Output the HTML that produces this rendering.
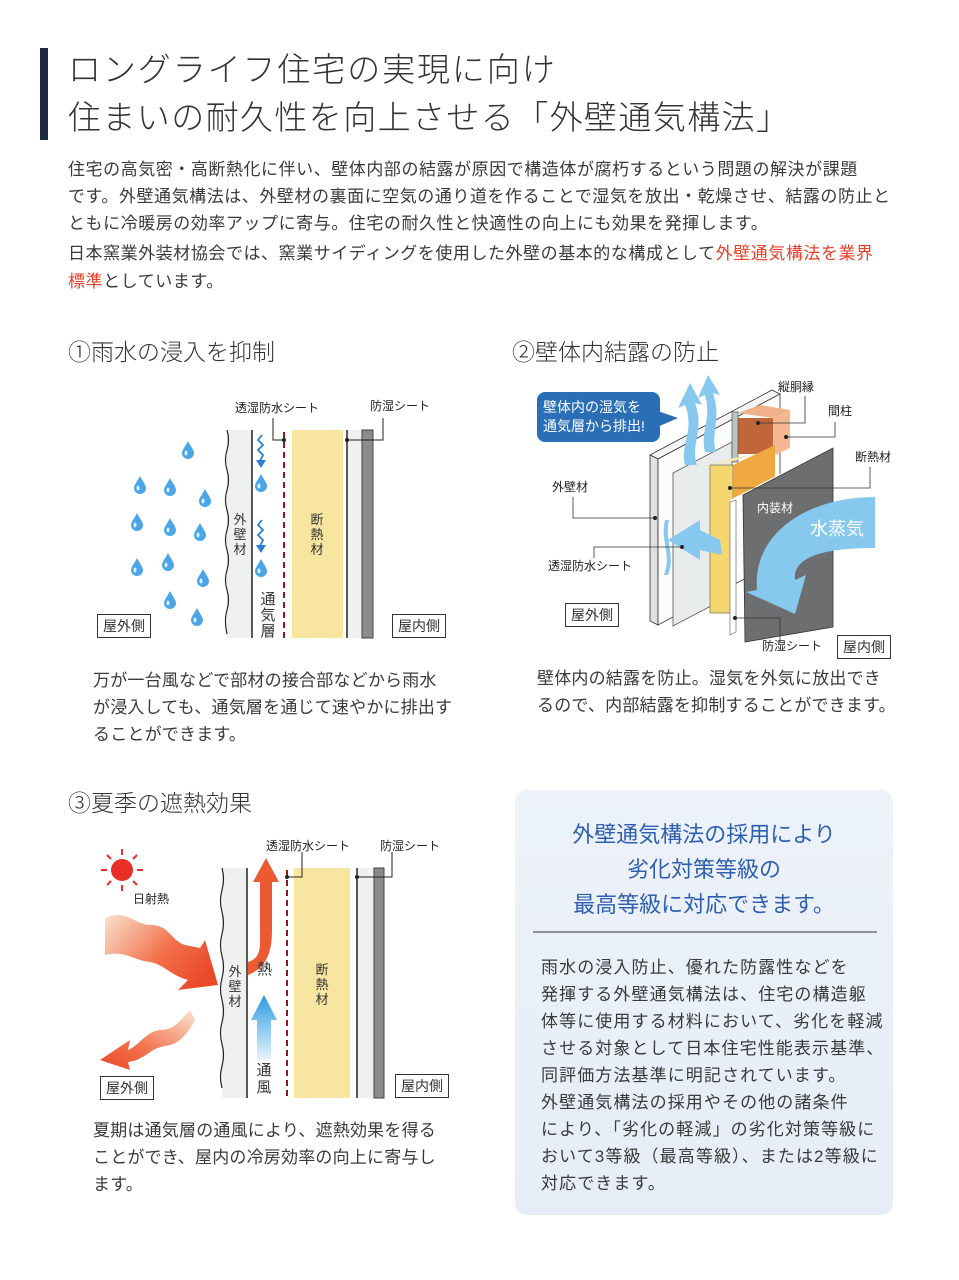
<!DOCTYPE html>
<html><head><meta charset="utf-8"><style>
*{margin:0;padding:0}
body{width:959px;height:1280px;background:#fff;position:relative;overflow:hidden;font-family:"Liberation Sans","Noto Sans CJK JP",sans-serif;color:#333}
.t{position:absolute;white-space:nowrap;line-height:1}
.p{font-size:17px;letter-spacing:0.55px;color:#3a3a3a}
.h{font-size:23px;color:#333;font-weight:300}
.lb{font-size:12px;color:#222}
.box{position:absolute;border:1px solid #333;background:#fff;font-size:14px;line-height:22px;padding:0 5px;white-space:nowrap}
.v{position:absolute;font-size:13px;line-height:15px;width:14px;text-align:center;color:#333}
</style></head><body>
<div style="position:absolute;left:40px;top:48px;width:8px;height:92px;background:#1e2a44"></div>
<div class="t" style="left:68px;top:53px;font-size:33px;letter-spacing:1.9px;font-weight:300">ロングライフ住宅の実現に向け</div>
<div class="t" style="left:68px;top:101px;font-size:33px;letter-spacing:1.4px;font-weight:300">住まいの耐久性を向上させる「外壁通気構法」</div>

<div class="t p" style="left:68px;top:161px">住宅の高気密・高断熱化に伴い、壁体内部の結露が原因で構造体が腐朽するという問題の解決が課題</div>
<div class="t p" style="left:68px;top:188px">です。外壁通気構法は、外壁材の裏面に空気の通り道を作ることで湿気を放出・乾燥させ、結露の防止と</div>
<div class="t p" style="left:68px;top:215px">ともに冷暖房の効率アップに寄与。住宅の耐久性と快適性の向上にも効果を発揮します。</div>
<div class="t p" style="left:68px;top:245px">日本窯業外装材協会では、窯業サイディングを使用した外壁の基本的な構成として<span style="color:#e8402a">外壁通気構法を業界</span></div>
<div class="t p" style="left:68px;top:273px"><span style="color:#e8402a">標準</span>としています。</div>

<div class="t h" style="left:68px;top:341px">①雨水の浸入を抑制</div>
<div class="t h" style="left:512px;top:341px">②壁体内結露の防止</div>
<div class="t h" style="left:68px;top:792px">③夏季の遮熱効果</div>

<svg width="959" height="1280" style="position:absolute;left:0;top:0">
<defs>
<g id="drop"><path d="M0,-9 C3,-3 6,0 6,3 A6,6 0 1 1 -6,3 C-6,0 -3,-3 0,-9Z" fill="#4aa6e8"/><ellipse cx="-2" cy="3" rx="1.5" ry="2.5" fill="#dff0fb"/></g>
<linearGradient id="heat" x1="0" y1="0" x2="1" y2="0.6"><stop offset="0" stop-color="#fbe3d0"/><stop offset="0.6" stop-color="#f2704a"/><stop offset="1" stop-color="#ea4a2a"/></linearGradient>
<linearGradient id="heat2" x1="1" y1="0" x2="0" y2="1"><stop offset="0" stop-color="#fbe3d0"/><stop offset="0.6" stop-color="#f2704a"/><stop offset="1" stop-color="#ea4a2a"/></linearGradient>
<linearGradient id="wind" x1="0" y1="1" x2="0" y2="0"><stop offset="0" stop-color="#e8f5fd"/><stop offset="1" stop-color="#2b9ae0"/></linearGradient>
<linearGradient id="bb" x1="0" y1="0" x2="0" y2="1"><stop offset="0" stop-color="#edf2f9"/><stop offset="1" stop-color="#e6edf7"/></linearGradient>
</defs>
<!-- Diagram 1 -->
<rect x="227" y="430" width="25" height="208" fill="#eef1ee"/>
<path d="M227,430 q3,10 0,20 q-3,10 0,20 q3,10 0,20 q-3,10 0,20 q3,10 0,20 q-3,10 0,20 q3,10 0,20 q-3,10 0,20 q3,10 0,20 q-3,10 0,24" fill="none" stroke="#222" stroke-width="1.2"/>
<line x1="252" y1="430" x2="252" y2="638" stroke="#222" stroke-width="1.5"/>
<line x1="284" y1="432" x2="284" y2="638" stroke="#8a1a1a" stroke-width="2" stroke-dasharray="6,4"/>
<rect x="292" y="430" width="51" height="208" fill="#f8e6a0"/>
<rect x="347" y="430" width="15" height="208" fill="#eef1ee"/>
<line x1="347" y1="430" x2="347" y2="638" stroke="#222" stroke-width="1.5"/>
<rect x="362" y="430" width="11" height="208" fill="#8a8c8c" stroke="#444" stroke-width="1"/>
<polyline points="273,418 273,440 284,440" fill="none" stroke="#222"/><circle cx="284" cy="440" r="2" fill="#222"/>
<polyline points="383,418 383,440 347,440" fill="none" stroke="#222"/><circle cx="347" cy="440" r="2" fill="#222"/>
<g fill="none" stroke="#2a7fd0" stroke-width="1.8"><path d="M262,435 l-4,5 l5,5 l-5,5 l5,5 l-3,6"/><path d="M262,520 l-4,5 l5,5 l-5,5 l5,5 l-3,6"/></g>
<path d="M256,460 l5,8 l5,-8z M256,545 l5,8 l5,-8z" fill="#2a7fd0"/>
<use href="#drop" x="261" y="483"/><use href="#drop" x="261" y="568"/>
<use href="#drop" x="188" y="450"/><use href="#drop" x="140" y="485"/><use href="#drop" x="170" y="487"/><use href="#drop" x="205" y="498"/>
<use href="#drop" x="137" y="522"/><use href="#drop" x="170" y="527"/><use href="#drop" x="200" y="532"/><use href="#drop" x="137" y="567"/>
<use href="#drop" x="168" y="562"/><use href="#drop" x="203" y="578"/><use href="#drop" x="170" y="600"/><use href="#drop" x="197" y="617"/>

<!-- Diagram 3 -->
<rect x="222" y="868" width="25" height="230" fill="#eef1ee"/>
<path d="M222,868 q3,11 0,22 q-3,11 0,22 q3,11 0,22 q-3,11 0,22 q3,11 0,22 q-3,11 0,22 q3,11 0,22 q-3,11 0,22 q3,11 0,22 q-3,11 0,22" fill="none" stroke="#222" stroke-width="1.2"/>
<line x1="247" y1="868" x2="247" y2="1098" stroke="#222" stroke-width="1.5"/>
<line x1="287" y1="870" x2="287" y2="1098" stroke="#8a1a1a" stroke-width="2" stroke-dasharray="6,4"/>
<rect x="294" y="868" width="56" height="230" fill="#f8e6a0"/>
<rect x="357" y="868" width="17" height="230" fill="#eef1ee"/>
<line x1="357" y1="868" x2="357" y2="1098" stroke="#222" stroke-width="1.5"/>
<rect x="374" y="868" width="10" height="230" fill="#8a8c8c" stroke="#444"/>
<polyline points="302,852 302,877 287,877" fill="none" stroke="#222"/><circle cx="287" cy="877" r="2" fill="#222"/>
<polyline points="392,852 392,877 357,877" fill="none" stroke="#222"/><circle cx="357" cy="877" r="2" fill="#222"/>
<path d="M248,962 C262,958 260,945 260,930 L260,882 L253,882 L266,858 L279,882 L272,882 L272,930 C272,955 265,968 248,975Z" fill="#ec5a33"/>
<path d="M257,1060 L257,1020 L251,1020 L264,995 L277,1020 L271,1020 L271,1060Z" fill="url(#wind)"/>
<circle cx="122" cy="870" r="11" fill="#e83028"/>
<g stroke="#e83028" stroke-width="2"><line x1="122" y1="849" x2="122" y2="855"/><line x1="122" y1="885" x2="122" y2="891"/><line x1="101" y1="870" x2="107" y2="870"/><line x1="137" y1="870" x2="143" y2="870"/><line x1="107" y1="855" x2="111" y2="859"/><line x1="133" y1="881" x2="137" y2="885"/><line x1="137" y1="855" x2="133" y2="859"/><line x1="107" y1="885" x2="111" y2="881"/></g>
<path d="M105,918 C125,908 135,925 150,925 C170,925 170,940 185,945 L200,948 L205,940 L218,985 L178,990 L188,980 C170,975 165,965 150,962 C132,960 125,950 105,955Z" fill="url(#heat)"/>
<path d="M190,1010 C180,1020 175,1030 160,1030 C145,1032 140,1045 128,1050 L130,1040 L100,1060 L130,1070 L128,1062 C145,1060 150,1048 165,1046 C180,1045 190,1030 195,1020Z" fill="url(#heat2)"/>

<!-- Diagram 2 -->
<path d="M650,455 L772,390 L780,394 L658,459Z" fill="#f4f4f4" stroke="#333" stroke-width="0.8"/>
<path d="M650,455 L658,459 L658,625 L650,621Z" fill="#e0e0e0" stroke="#333" stroke-width="0.8"/>
<path d="M658,459 L780,394 L780,560 L658,625Z" fill="#fbfbfb" stroke="#333" stroke-width="0.8"/>
<path d="M673,473 L732,442 L732,595 L673,626Z" fill="#e8ecec" stroke="#555" stroke-width="0.8"/>
<path d="M738,413 L760,405 L790,410 L773,418Z" fill="#f0b088"/>
<rect x="738" y="418" width="35" height="36" fill="#c0663a"/>
<path d="M773,418 L790,410 L790,448 L773,456Z" fill="#f4b890"/>
<rect x="732" y="412" width="6" height="50" fill="#b8c4c4" stroke="#444" stroke-width="0.6"/>
<path d="M710,465 L733,458 L752,455 L730,462Z" fill="#f6e6b0"/>
<rect x="710" y="465" width="23" height="148" fill="#f6d66e" stroke="#555" stroke-width="0.6"/>
<path d="M733,465 L775,445 L775,485 L733,505Z" fill="#f0a840"/>
<path d="M730,500 L835,445 L835,460 L735,510Z" fill="#fff"/>
<path d="M730,502 L736,500 L736,632 L730,635Z" fill="#fff" stroke="#555" stroke-width="0.6"/>
<path d="M743,495 L833,448 L833,627 L745,642Z" fill="#6d6e70" stroke="#333" stroke-width="0.8"/>
<path d="M875,497 C805,497 752,535 757,590 L746,592 L795,614 L806,575 L795,580 C793,560 815,548 875,548Z" fill="#86c8ee"/>
<path d="M720,540 L700,530 L700,520 L668,540 L700,560 L700,550 L722,555Z" fill="#86c8ee"/>
<path d="M685,465 C680,445 695,430 685,405 L678,408 L690,383 L702,405 L695,403 C705,430 690,445 697,465Z" fill="#86c8ee"/>
<path d="M705,452 C700,430 712,420 705,395 L698,398 L708,375 L720,395 L713,393 C722,420 710,432 716,452Z" fill="#86c8ee"/>
<path d="M665,520 C660,540 672,555 664,575 L668,575 C676,555 664,540 669,520Z" fill="#86c8ee"/>
<rect x="537" y="392" width="123" height="50" rx="8" fill="#2a6fb5"/>
<path d="M655,410 L678,418 L655,428Z" fill="#2a6fb5"/>
<g fill="none" stroke="#333" stroke-width="0.8">
<polyline points="805,396 805,423 758,423"/><polyline points="835,422 835,437 786,437"/><polyline points="870,467 870,488 730,488"/>
<polyline points="573,497 573,518 655,518"/><polyline points="594,558 594,547 682,547"/><polyline points="780,642 780,618 735,618"/>
</g>
<g fill="#222"><circle cx="786" cy="437" r="2"/><circle cx="730" cy="488" r="2"/><circle cx="655" cy="518" r="2"/><circle cx="682" cy="547" r="2"/><circle cx="735" cy="618" r="2"/><circle cx="758" cy="423" r="2"/></g>
<!-- blue box -->
<rect x="515" y="790" width="378" height="425" rx="12" fill="url(#bb)"/>
<line x1="533" y1="932" x2="877" y2="932" stroke="#333" stroke-width="1"/>
</svg>

<div class="t lb" style="left:235px;top:402px">透湿防水シート</div>
<div class="t lb" style="left:370px;top:400px">防湿シート</div>
<div class="v" style="left:233px;top:512px">外壁材</div>
<div class="v" style="left:310px;top:512px">断熱材</div>
<div class="v" style="left:260px;top:592px;font-size:15px;line-height:16px;width:16px">通気層</div>
<div class="box" style="left:97px;top:614px">屋外側</div>
<div class="box" style="left:392px;top:614px">屋内側</div>

<div class="t lb" style="left:266px;top:840px">透湿防水シート</div>
<div class="t lb" style="left:380px;top:840px">防湿シート</div>
<div class="t lb" style="left:133px;top:893px">日射熱</div>
<div class="v" style="left:228px;top:964px">外壁材</div>
<div class="v" style="left:315px;top:962px">断熱材</div>
<div class="t" style="left:257px;top:962px;font-size:15px">熱</div>
<div class="v" style="left:256px;top:1062px;font-size:15px;line-height:17px;width:16px">通風</div>
<div class="box" style="left:100px;top:1076px">屋外側</div>
<div class="box" style="left:395px;top:1074px">屋内側</div>

<div class="t" style="left:543px;top:398px;font-size:14px;color:#fff;line-height:19px">壁体内の湿気を<br>通気層から排出!</div>
<div class="t lb" style="left:778px;top:381px">縦胴縁</div>
<div class="t lb" style="left:828px;top:405px">間柱</div>
<div class="t lb" style="left:855px;top:451px">断熱材</div>
<div class="t lb" style="left:552px;top:481px">外壁材</div>
<div class="t lb" style="left:757px;top:502px;color:#fff">内装材</div>
<div class="t" style="left:810px;top:520px;font-size:18px;color:#fff">水蒸気</div>
<div class="t lb" style="left:548px;top:560px">透湿防水シート</div>
<div class="box" style="left:565px;top:603px">屋外側</div>
<div class="t lb" style="left:762px;top:640px">防湿シート</div>
<div class="box" style="left:837px;top:635px">屋内側</div>

<div class="t p" style="left:93px;top:672px;letter-spacing:0.2px">万が一台風などで部材の接合部などから雨水</div>
<div class="t p" style="left:93px;top:699px;letter-spacing:0.2px">が浸入しても、通気層を通じて速やかに排出す</div>
<div class="t p" style="left:93px;top:726px;letter-spacing:0.2px">ることができます。</div>
<div class="t p" style="left:537px;top:670px;letter-spacing:0.2px">壁体内の結露を防止。湿気を外気に放出でき</div>
<div class="t p" style="left:537px;top:697px;letter-spacing:0.2px">るので、内部結露を抑制することができます。</div>
<div class="t p" style="left:93px;top:1122px;letter-spacing:0.2px">夏期は通気層の通風により、遮熱効果を得る</div>
<div class="t p" style="left:93px;top:1149px;letter-spacing:0.2px">ことができ、屋内の冷房効率の向上に寄与し</div>
<div class="t p" style="left:93px;top:1176px;letter-spacing:0.2px">ます。</div>

<div class="t" style="left:515px;width:378px;text-align:center;top:817px;font-size:22px;color:#2f5fb0;line-height:35px">外壁通気構法の採用により<br>劣化対策等級の<br>最高等級に対応できます。</div>
<div class="t" style="left:541px;top:954px;font-size:17px;letter-spacing:1.1px;line-height:27px;color:#3a3a3a">雨水の浸入防止、優れた防露性などを<br>発揮する外壁通気構法は、住宅の構造躯<br>体等に使用する材料において、劣化を軽減<br>させる対象として日本住宅性能表示基準、<br>同評価方法基準に明記されています。<br>外壁通気構法の採用やその他の諸条件<br>により、「劣化の軽減」の劣化対策等級に<br>おいて3等級（最高等級）、または2等級に<br>対応できます。</div>
</body></html>
